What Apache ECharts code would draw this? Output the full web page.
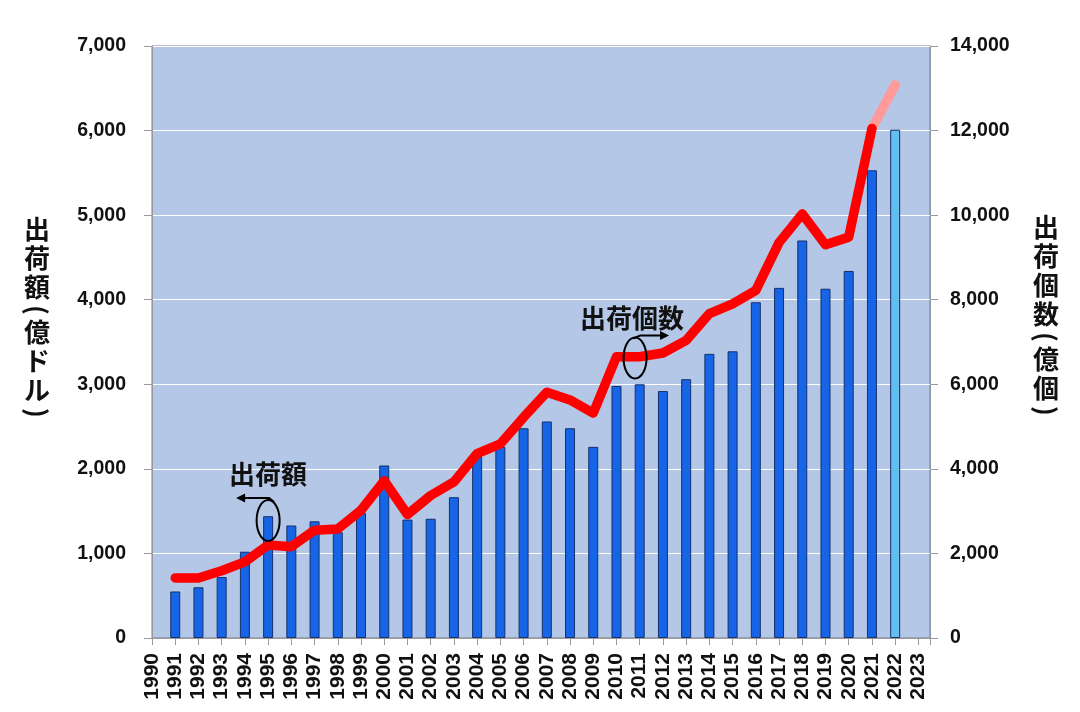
<!DOCTYPE html>
<html>
<head>
<meta charset="utf-8">
<script src="https://cdn.jsdelivr.net/npm/echarts@6/dist/echarts.min.js"></script>
<style>
html,body{margin:0;padding:0;background:#fff;}
#c{width:1080px;height:712px;}
</style>
</head>
<body>
<div id="c"></div>
<script>
// ---- data ----
const barYears = [1991,1992,1993,1994,1995,1996,1997,1998,1999,2000,2001,2002,2003,2004,2005,2006,2007,2008,2009,2010,2011,2012,2013,2014,2015,2016,2017,2018,2019,2020,2021,2022];
const shipmentValue = [550,600,720,1020,1440,1330,1380,1250,1480,2040,1400,1410,1665,2140,2260,2480,2560,2480,2260,2980,3000,2920,3060,3360,3390,3970,4140,4700,4130,4340,5530,6010];
const lineYears = [1991,1992,1993,1994,1995,1996,1997,1998,1999,2000,2001,2002,2003,2004,2005,2006,2007,2008,2009,2010,2011,2012,2013,2014,2015,2016,2017,2018,2019,2020,2021,2022];
const shipmentUnits = [1420,1420,1590,1800,2200,2160,2550,2580,3020,3720,2920,3370,3690,4360,4590,5220,5810,5630,5320,6650,6650,6740,7040,7670,7900,8220,9350,10030,9300,9480,12050,13080];
const forecastYear = 2022;
const leftTicks = {min:0, max:7000, interval:1000};
const rightTicks = {min:0, max:14000, interval:2000};
const xRange = {min:1990, max:2023.5, interval:1};
const leftName = ['出','荷','額','(','億','ド','ル',')'];
const rightName = ['出','荷','個','数','(','億','個',')'];
const label1 = '出荷額';
const label2 = '出荷個数';

// ---- chart ----
const chart = echarts.init(document.getElementById('c'), null, {renderer:'canvas'});
const FONT = '"Liberation Sans", Arial, sans-serif';
const CJKFONT = 'bold 26px "Noto Sans CJK JP", sans-serif';

const barData = barYears.map((y,i) => ({
  value:[y, shipmentValue[i]],
  itemStyle: y === forecastYear ? {color:'#63bff0', borderColor:'#1b2f66', borderWidth:1} : undefined
}));
const mainLine = [], foreLine = [];
lineYears.forEach((y,i) => {
  if (y < forecastYear) mainLine.push([y, shipmentUnits[i]]);
  if (y >= forecastYear - 1) foreLine.push([y, shipmentUnits[i]]);
});

chart.setOption({
  animation:false,
  backgroundColor:'#ffffff',
  grid:{left:152, right:150, top:46, bottom:74, show:true, backgroundColor:'#b4c7e7', borderColor:'#7a7f88', borderWidth:1},
  xAxis:{
    type:'value', min:xRange.min, max:xRange.max, interval:xRange.interval,
    axisLine:{show:true, onZero:false, lineStyle:{color:'#9a9a9a'}},
    axisTick:{show:true, length:7, lineStyle:{color:'#9a9a9a'}},
    splitLine:{show:false},
    axisLabel:{rotate:90, margin:15, fontFamily:FONT, fontWeight:'bold', fontSize:21, color:'#111',
      formatter: v => Number.isInteger(v) ? String(v) : ''}
  },
  yAxis:[
    {type:'value', min:leftTicks.min, max:leftTicks.max, interval:leftTicks.interval, position:'left',
      axisLine:{show:true, lineStyle:{color:'#9a9a9a'}},
      axisTick:{show:true, length:8, lineStyle:{color:'#9a9a9a'}},
      splitLine:{show:true, lineStyle:{color:'#ffffff', width:1}},
      axisLabel:{margin:26, fontFamily:FONT, fontWeight:'bold', fontSize:19.5, color:'#111'}
    },
    {type:'value', min:rightTicks.min, max:rightTicks.max, interval:rightTicks.interval, position:'right',
      axisLine:{show:true, lineStyle:{color:'#8a96a8'}},
      axisTick:{show:true, length:8, lineStyle:{color:'#9a9a9a'}},
      splitLine:{show:false},
      axisLabel:{margin:20, fontFamily:FONT, fontWeight:'bold', fontSize:19.5, color:'#111'}
    }
  ],
  series:[
    {type:'bar', name:'出荷額', yAxisIndex:0, data:barData, barWidth:10,
      itemStyle:{color:'#1565e6', borderColor:'#16306e', borderWidth:1}, z:2},
    {type:'line', name:'出荷個数', yAxisIndex:1, data:mainLine, symbol:'none',
      lineStyle:{color:'#ff0000', width:9.5, cap:'round', join:'round'}, z:4},
    {type:'line', name:'出荷個数予測', yAxisIndex:1, data:foreLine, symbol:'none',
      lineStyle:{color:'#ff9a9a', width:9.5, cap:'round', join:'round'}, z:3}
  ]
});

// vertical axis titles (one glyph per line, brackets turned for vertical writing)
function verticalTitle(chars, cx, top){
  const els = [];
  let y = top;
  chars.forEach(c => {
    const isParen = (c === '(' || c === ')');
    const h = isParen ? 16 : 29;
    els.push({
      type:'text', x:cx, y:y + h/2, rotation: isParen ? -Math.PI/2 : 0,
      style:{text:c, font:CJKFONT, fill:'#111', textAlign:'center', textVerticalAlign:'middle'}, z:100
    });
    y += h;
  });
  return els;
}

// annotations anchored to data coordinates
const e1 = chart.convertToPixel({xAxisIndex:0, yAxisIndex:0}, [1995, 1390]);
const e2 = chart.convertToPixel({xAxisIndex:0, yAxisIndex:1}, [2010.8, 6620]);
const rx = 11.5, ry = 20.5;
const stroke = {stroke:'#000', lineWidth:2, fill:null};
function arrowHead(x, y, dir){
  return {type:'polygon', shape:{points:[[x, y],[x - dir*9, y-4.5],[x - dir*9, y+4.5]]}, style:{fill:'#000'}, z:100};
}
const gridRect = chart.getModel().getComponent('grid').coordinateSystem.getRect();
chart.setOption({graphic:[
  ...verticalTitle(leftName, gridRect.x - 115, 215),
  ...verticalTitle(rightName, gridRect.x + gridRect.width + 116, 213),
  {type:'ellipse', shape:{cx:e1[0], cy:e1[1], rx:rx, ry:ry}, style:stroke, z:100},
  {type:'polyline', shape:{points:[[e1[0]+6, e1[1]-ry+2],[e1[0]+1, e1[1]-ry-2],[e1[0]-26, e1[1]-ry-2]]}, style:{stroke:'#000', lineWidth:2, fill:null}, z:100},
  arrowHead(e1[0]-32, e1[1]-ry-2, -1),
  {type:'text', x:e1[0], y:e1[1]-46, style:{text:label1, font:CJKFONT, fill:'#111', textAlign:'center', textVerticalAlign:'middle'}, z:100},
  {type:'ellipse', shape:{cx:e2[0], cy:e2[1], rx:rx, ry:ry}, style:stroke, z:100},
  {type:'polyline', shape:{points:[[e2[0]-2, e2[1]-ry+1],[e2[0]+5, e2[1]-ry-2],[e2[0]+28, e2[1]-ry-2]]}, style:{stroke:'#000', lineWidth:2, fill:null}, z:100},
  arrowHead(e2[0]+34, e2[1]-ry-2, 1),
  {type:'text', x:e2[0]-3, y:e2[1]-40, style:{text:label2, font:CJKFONT, fill:'#111', textAlign:'center', textVerticalAlign:'middle'}, z:100}
]});
</script>
</body>
</html>
